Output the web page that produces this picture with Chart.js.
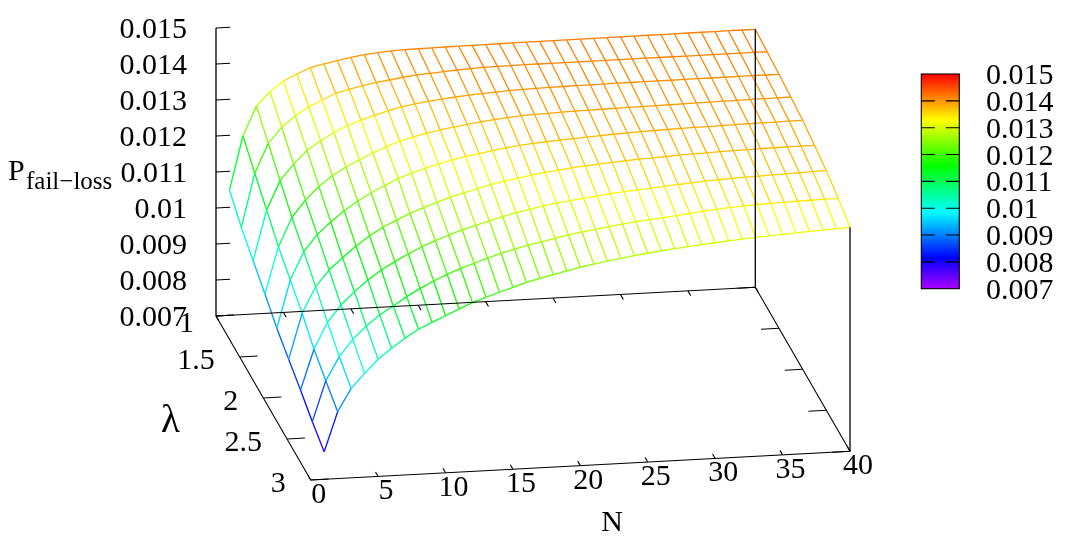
<!DOCTYPE html>
<html>
<head>
<meta charset="utf-8">
<style>html,body{margin:0;padding:0;background:#fff}canvas{display:block}</style>
<script src="https://cdn.jsdelivr.net/npm/chart.js@4/dist/chart.umd.min.js"></script>
</head>
<body>
<canvas id="c" width="1068" height="541"></canvas>
<script>
const nValues = [1,2,3,4,5,6,7,8,9,10,11,12,13,14,15,16,17,18,19,20,21,22,23,24,25,26,27,28,29,30,31,32,33,34,35,36,37,38,39,40];
const lambdaValues = [1,1.25,1.5,1.75,2,2.25,2.5,2.75,3];
const pLambda100 = [0.010481,0.011961,0.012772,0.013150,0.013428,0.013603,0.013758,0.013842,0.013914,0.013986,0.014039,0.014075,0.014103,0.014119,0.014125,0.014131,0.014133,0.014136,0.014139,0.014142,0.014144,0.014147,0.014147,0.014150,0.014150,0.014153,0.014153,0.014156,0.014156,0.014158,0.014158,0.014161,0.014161,0.014161,0.014164,0.014164,0.014164,0.014167,0.014167,0.014167];
const pLambda125 = [0.010014,0.011494,0.012306,0.012731,0.013033,0.013264,0.013431,0.013597,0.013686,0.013767,0.013842,0.013886,0.013942,0.013986,0.014011,0.014036,0.014064,0.014083,0.014097,0.014106,0.014108,0.014111,0.014111,0.014111,0.014112,0.014112,0.014112,0.014112,0.014112,0.014112,0.014112,0.014112,0.014113,0.014113,0.014113,0.014113,0.014113,0.014113,0.014113,0.014113];
const pLambda150 = [0.009656,0.011044,0.011839,0.012278,0.012639,0.012889,0.013097,0.013264,0.013403,0.013514,0.013619,0.013711,0.013772,0.013822,0.013867,0.013903,0.013933,0.013958,0.013981,0.014000,0.014014,0.014025,0.014031,0.014036,0.014039,0.014042,0.014044,0.014047,0.014047,0.014050,0.014050,0.014050,0.014053,0.014053,0.014053,0.014053,0.014056,0.014056,0.014056,0.014056];
const pLambda175 = [0.009300,0.010594,0.011389,0.011847,0.012208,0.012486,0.012708,0.012889,0.013056,0.013208,0.013350,0.013444,0.013528,0.013597,0.013658,0.013714,0.013764,0.013806,0.013842,0.013875,0.013889,0.013900,0.013911,0.013919,0.013928,0.013933,0.013939,0.013944,0.013947,0.013953,0.013958,0.013964,0.013969,0.013972,0.013978,0.013981,0.013986,0.013989,0.013992,0.013994];
const pLambda200 = [0.008917,0.010239,0.011006,0.011458,0.011792,0.012083,0.012333,0.012542,0.012722,0.012900,0.013028,0.013139,0.013244,0.013333,0.013411,0.013472,0.013533,0.013589,0.013639,0.013672,0.013700,0.013725,0.013747,0.013769,0.013789,0.013808,0.013825,0.013842,0.013853,0.013861,0.013869,0.013878,0.013883,0.013889,0.013894,0.013900,0.013906,0.013908,0.013914,0.013917];
const pLambda225 = [0.008625,0.009883,0.010603,0.011044,0.011367,0.011672,0.011939,0.012153,0.012333,0.012500,0.012639,0.012764,0.012889,0.012986,0.013083,0.013175,0.013258,0.013319,0.013383,0.013436,0.013483,0.013522,0.013556,0.013589,0.013617,0.013642,0.013664,0.013683,0.013700,0.013717,0.013731,0.013742,0.013753,0.013761,0.013769,0.013778,0.013783,0.013786,0.013789,0.013792];
const pLambda250 = [0.008342,0.009453,0.010181,0.010642,0.010992,0.011297,0.011556,0.011767,0.011958,0.012142,0.012289,0.012428,0.012547,0.012653,0.012761,0.012856,0.012947,0.013022,0.013094,0.013156,0.013200,0.013247,0.013292,0.013336,0.013372,0.013403,0.013433,0.013461,0.013492,0.013519,0.013544,0.013564,0.013581,0.013594,0.013606,0.013617,0.013628,0.013639,0.013647,0.013656];
const pLambda275 = [0.008031,0.009150,0.009797,0.010258,0.010608,0.010894,0.011125,0.011364,0.011575,0.011758,0.011925,0.012072,0.012192,0.012314,0.012428,0.012528,0.012617,0.012689,0.012767,0.012839,0.012903,0.012956,0.013008,0.013061,0.013108,0.013147,0.013181,0.013217,0.013258,0.013300,0.013333,0.013364,0.013389,0.013406,0.013417,0.013425,0.013436,0.013444,0.013453,0.013458];
const pLambda300 = [0.007767,0.008858,0.009486,0.009883,0.010253,0.010539,0.010797,0.011028,0.011200,0.011364,0.011531,0.011686,0.011817,0.011936,0.012053,0.012172,0.012264,0.012344,0.012428,0.012511,0.012581,0.012644,0.012700,0.012753,0.012800,0.012850,0.012886,0.012922,0.012958,0.012992,0.013025,0.013056,0.013083,0.013106,0.013128,0.013147,0.013167,0.013186,0.013206,0.013222];
const surface = [pLambda100,pLambda125,pLambda150,pLambda175,pLambda200,pLambda225,pLambda250,pLambda275,pLambda300];

const nTicks = [0,5,10,15,20,25,30,35,40];
const lambdaTicks = [1,1.5,2,2.5,3];
const pTicks = [0.007,0.008,0.009,0.01,0.011,0.012,0.013,0.014,0.015];
const pTickLabels = ['0.007','0.008','0.009','0.01','0.011','0.012','0.013','0.014','0.015'];
const nMin = 0, nMax = 40, lMin = 1, lMax = 3, pMin = 0.007, pMax = 0.015;

// Orthographic view (gnuplot splot): data -> page position
const view = {ox:216, oy:316, nx:539.3, ny:-28.7, lx:94.7, ly:164, pz:36000};
function proj(n,l,p){
  const a=(n-nMin)/(nMax-nMin), b=(l-lMin)/(lMax-lMin);
  return {x:view.ox+a*view.nx+b*view.lx, y:view.oy+a*view.ny+b*view.ly-(p-pMin)*view.pz};
}
function hue(t){return 'hsl('+(280*(1-t)).toFixed(1)+',100%,50%)';}
function color(p){
  return hue(Math.max(0,Math.min(1,(p-pMin)/(pMax-pMin))));
}
const cbar = {x0:921.3,x1:959.3,y0:288.7,y1:74,tick:13.5};
function cbY(p){return cbar.y0+(p-pMin)/(pMax-pMin)*(cbar.y1-cbar.y0);}

const datasets=[];
function black(points,width){
  datasets.push({data:points,showLine:true,pointRadius:0,borderColor:'#000',borderWidth:width||1.1,order:0,clip:false,fill:false});
}
function surfaceLine(points){
  datasets.push({data:points,showLine:true,pointRadius:0,borderWidth:1.3,borderColor:color(points[0].p),order:1,clip:false,fill:false,
    segment:{borderColor:c=>{
      const d=c.chart.data.datasets[c.datasetIndex].data;
      return color((d[c.p0DataIndex].p+d[c.p1DataIndex].p)/2);
    }}});
}
// wireframe
surface.forEach((row,i)=>{
  surfaceLine(row.map((p,j)=>Object.assign(proj(nValues[j],lambdaValues[i],p),{p})));
});
nValues.forEach((n,j)=>{
  surfaceLine(lambdaValues.map((l,i)=>Object.assign(proj(n,l,surface[i][j]),{p:surface[i][j]})));
});
// base frame
black([proj(nMin,lMin,pMin),proj(nMax,lMin,pMin),proj(nMax,lMax,pMin),proj(nMin,lMax,pMin),proj(nMin,lMin,pMin)]);
// verticals
black([proj(nMin,lMin,pMin),proj(nMin,lMin,pMax)],1.3);
black([proj(nMax,lMin,pMin),proj(nMax,lMin,pLambda100[pLambda100.length-1])],1.3);
black([proj(nMax,lMax,pMin),proj(nMax,lMax,pLambda300[pLambda300.length-1])],1.3);
// ticks
nTicks.forEach(n=>{
  black([proj(n,lMin,pMin),proj(n,lMin+0.06,pMin)]);
  black([proj(n,lMax,pMin),proj(n,lMax-0.055,pMin)]);
});
lambdaTicks.forEach(l=>{
  black([proj(nMin,l,pMin),proj(nMin+1.33,l,pMin)]);
  black([proj(nMax,l,pMin),proj(nMax-1.33,l,pMin)]);
});
pTicks.forEach(p=>{
  black([proj(nMin,lMin,p),proj(nMin+1.05,lMin,p)],1.2);
});
const cbTicks = pTicks.slice(1,-1);

const labels={
  id:'labels',
  beforeDatasetsDraw(ch){
    const ctx=ch.ctx,sx=ch.scales.x,sy=ch.scales.y;
    const g=ctx.createLinearGradient(0,sy.getPixelForValue(cbar.y0),0,sy.getPixelForValue(cbar.y1));
    for(let k=0;k<=56;k++){g.addColorStop(k/56,hue(k/56));}
    ctx.save();
    ctx.fillStyle=g;
    ctx.fillRect(sx.getPixelForValue(cbar.x0),sy.getPixelForValue(cbar.y1),cbar.x1-cbar.x0,cbar.y0-cbar.y1);
    ctx.restore();
  },
  afterDatasetsDraw(ch){
    const ctx=ch.ctx,sx=ch.scales.x,sy=ch.scales.y;
    const X=v=>sx.getPixelForValue(v),Y=v=>sy.getPixelForValue(v);
    ctx.save();
    // colour box frame and ticks
    ctx.strokeStyle='#000';ctx.lineWidth=1.1;
    ctx.strokeRect(X(cbar.x0),Y(cbar.y1),cbar.x1-cbar.x0,cbar.y0-cbar.y1);
    ctx.beginPath();
    cbTicks.forEach(p=>{
      const y=Y(cbY(p));
      ctx.moveTo(X(cbar.x0),y);ctx.lineTo(X(cbar.x0+cbar.tick),y);
      ctx.moveTo(X(cbar.x1-cbar.tick),y);ctx.lineTo(X(cbar.x1),y);
    });
    ctx.stroke();
    ctx.fillStyle='#000';
    const font=(s)=>s+'px "Liberation Serif"';
    ctx.font=font(30);
    ctx.textBaseline='alphabetic';
    const mid=10;
    // vertical axis labels
    ctx.textAlign='right';
    pTicks.forEach((p,i)=>{
      const q=proj(nMin,lMin,p);
      ctx.fillText(pTickLabels[i],X(q.x-29),Y(q.y+mid));
    });
    // lambda labels
    lambdaTicks.forEach(l=>{
      const q=proj(nMin,l,pMin);
      const first=l===lMin;
      ctx.fillText(String(l),X(q.x-25+(first?3:0)),Y(q.y+mid+2+(first?4:0)));
    });
    // N labels
    ctx.textAlign='center';
    nTicks.forEach(n=>{
      const q=proj(n,lMax,pMin);
      ctx.fillText(String(n),X(q.x+8),Y(q.y+mid+13));
    });
    // colour box labels
    ctx.textAlign='left';
    pTicks.forEach((p,i)=>{
      ctx.fillText(pTickLabels[i],X(986),Y(cbY(p)+mid));
    });
    // titles
    ctx.textAlign='center';
    ctx.fillText('N',X(612),Y(531));
    ctx.textAlign='left';
    ctx.fillText('P',X(8),Y(180));
    ctx.font=font(39);
    ctx.fillText('λ',X(161),Y(432));
    ctx.font=font(25);
    ctx.fillText('fail−loss',X(26),Y(189));
    ctx.restore();
  }
};

new Chart(document.getElementById('c'),{
  type:'scatter',
  data:{datasets},
  plugins:[labels],
  options:{
    responsive:false,animation:false,
    layout:{padding:0},
    plugins:{legend:{display:false},tooltip:{enabled:false},title:{display:false}},
    scales:{
      x:{type:'linear',min:0,max:1068,display:false},
      y:{type:'linear',min:0,max:541,reverse:true,display:false}
    }
  }
});
</script>
</body>
</html>
